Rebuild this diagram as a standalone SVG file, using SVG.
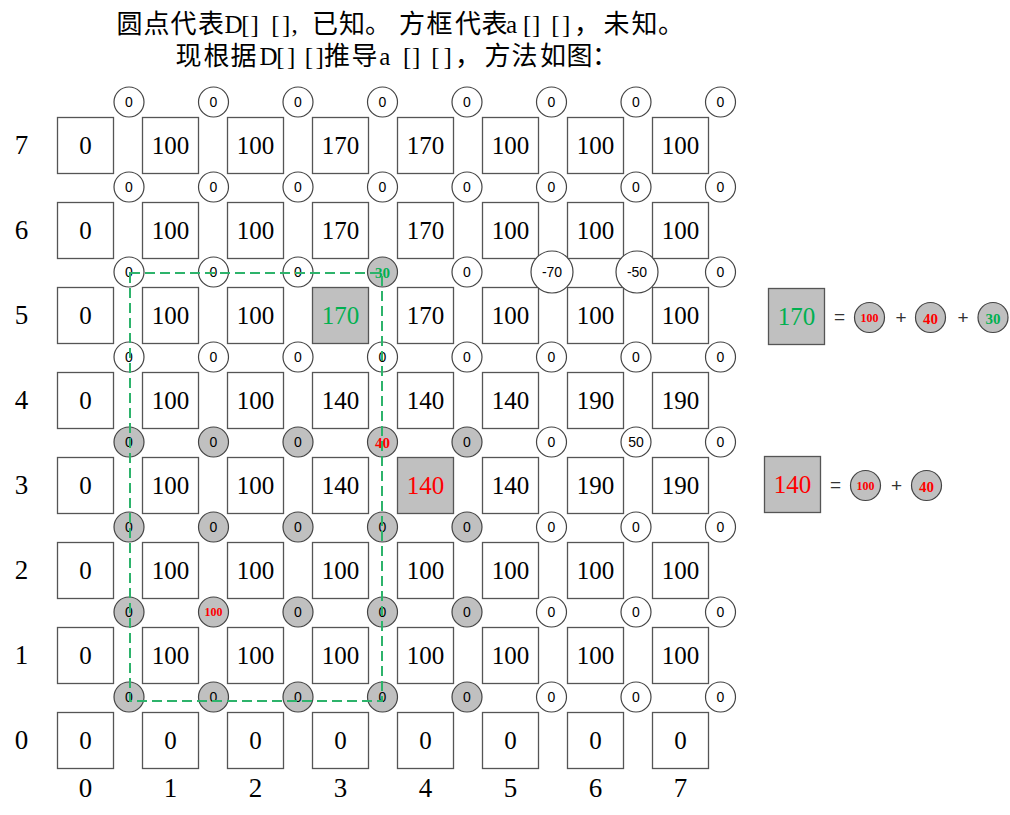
<svg xmlns="http://www.w3.org/2000/svg" width="1010" height="815" viewBox="0 0 1010 815">
<style>
.box{fill:#fff;stroke:#555;stroke-width:1.3}
.gb{fill:#c0c0c0}
.bt{font-family:"Liberation Serif",serif;font-size:25px;text-anchor:middle;fill:#000}
.lbl{font-family:"Liberation Serif",serif;font-size:27px;text-anchor:middle;fill:#000}
.dot{fill:#fff;stroke:#444;stroke-width:1.2}
.gd{fill:#c0c0c0}
.dt{font-family:"Liberation Sans",sans-serif;font-size:14px;text-anchor:middle;fill:#000}
.hl{font-family:"Liberation Serif",serif;font-weight:bold;font-size:15px;text-anchor:middle}
.sm{font-size:12px}
.red{fill:#ff0000}
.grn{fill:#00b050}
.op{font-family:"Liberation Sans",sans-serif;font-size:19px;text-anchor:middle;fill:#333}
.title{font-family:"Liberation Serif","Noto Sans CJK SC",serif;font-size:26px;fill:#000}
.lt{font-size:25px}
.region{fill:none;stroke:#2db36b;stroke-width:2;stroke-dasharray:10 5}
</style>
<rect width="1010" height="815" fill="#fff"/>
<g id="title">
<text class="title" y="32.5" x="116.5 143.5 170.5 198">圆点代表<tspan class="lt" x="224.5 241.3 250.5 271.3 282 291.5">D[][],</tspan><tspan x="312 339 365 399 426.5 455 481.5">已知。方框代表</tspan><tspan class="lt" x="506 523 532 551.3 562">a[][]</tspan><tspan x="574 603.5 631.5 658">，未知。</tspan></text>
<text class="title" y="64.5" x="175.5 203.5 230.5">现根据<tspan class="lt" x="259.5 276.3 287 304.7 315.5">D[][]</tspan><tspan x="324 351.5">推导</tspan><tspan class="lt" x="379.3 403 412 431.3 443.5">a[][]</tspan><tspan x="455 484.5 511.5 540 566.5 592">，方法如图：</tspan></text>
</g>
<g id="row-labels">
<text class="lbl" x="21.5" y="154">7</text>
<text class="lbl" x="21.5" y="239">6</text>
<text class="lbl" x="21.5" y="324">5</text>
<text class="lbl" x="21.5" y="409">4</text>
<text class="lbl" x="21.5" y="494">3</text>
<text class="lbl" x="21.5" y="579">2</text>
<text class="lbl" x="21.5" y="664">1</text>
<text class="lbl" x="21.5" y="749">0</text>
</g>
<g id="col-labels">
<text class="lbl" x="85.5" y="797">0</text>
<text class="lbl" x="170.5" y="797">1</text>
<text class="lbl" x="255.5" y="797">2</text>
<text class="lbl" x="340.5" y="797">3</text>
<text class="lbl" x="425.5" y="797">4</text>
<text class="lbl" x="510.5" y="797">5</text>
<text class="lbl" x="595.5" y="797">6</text>
<text class="lbl" x="680.5" y="797">7</text>
</g>
<g id="boxes">
<g id="a-7-0"><rect class="box" x="57.5" y="117.5" width="56" height="56"/><text class="bt" x="85.5" y="153.5">0</text></g>
<g id="a-7-1"><rect class="box" x="142.5" y="117.5" width="56" height="56"/><text class="bt" x="170.5" y="153.5">100</text></g>
<g id="a-7-2"><rect class="box" x="227.5" y="117.5" width="56" height="56"/><text class="bt" x="255.5" y="153.5">100</text></g>
<g id="a-7-3"><rect class="box" x="312.5" y="117.5" width="56" height="56"/><text class="bt" x="340.5" y="153.5">170</text></g>
<g id="a-7-4"><rect class="box" x="397.5" y="117.5" width="56" height="56"/><text class="bt" x="425.5" y="153.5">170</text></g>
<g id="a-7-5"><rect class="box" x="482.5" y="117.5" width="56" height="56"/><text class="bt" x="510.5" y="153.5">100</text></g>
<g id="a-7-6"><rect class="box" x="567.5" y="117.5" width="56" height="56"/><text class="bt" x="595.5" y="153.5">100</text></g>
<g id="a-7-7"><rect class="box" x="652.5" y="117.5" width="56" height="56"/><text class="bt" x="680.5" y="153.5">100</text></g>

<g id="a-6-0"><rect class="box" x="57.5" y="202.5" width="56" height="56"/><text class="bt" x="85.5" y="238.5">0</text></g>
<g id="a-6-1"><rect class="box" x="142.5" y="202.5" width="56" height="56"/><text class="bt" x="170.5" y="238.5">100</text></g>
<g id="a-6-2"><rect class="box" x="227.5" y="202.5" width="56" height="56"/><text class="bt" x="255.5" y="238.5">100</text></g>
<g id="a-6-3"><rect class="box" x="312.5" y="202.5" width="56" height="56"/><text class="bt" x="340.5" y="238.5">170</text></g>
<g id="a-6-4"><rect class="box" x="397.5" y="202.5" width="56" height="56"/><text class="bt" x="425.5" y="238.5">170</text></g>
<g id="a-6-5"><rect class="box" x="482.5" y="202.5" width="56" height="56"/><text class="bt" x="510.5" y="238.5">100</text></g>
<g id="a-6-6"><rect class="box" x="567.5" y="202.5" width="56" height="56"/><text class="bt" x="595.5" y="238.5">100</text></g>
<g id="a-6-7"><rect class="box" x="652.5" y="202.5" width="56" height="56"/><text class="bt" x="680.5" y="238.5">100</text></g>

<g id="a-5-0"><rect class="box" x="57.5" y="287.5" width="56" height="56"/><text class="bt" x="85.5" y="323.5">0</text></g>
<g id="a-5-1"><rect class="box" x="142.5" y="287.5" width="56" height="56"/><text class="bt" x="170.5" y="323.5">100</text></g>
<g id="a-5-2"><rect class="box" x="227.5" y="287.5" width="56" height="56"/><text class="bt" x="255.5" y="323.5">100</text></g>
<g id="a-5-3"><rect class="box gb" x="312.5" y="287.5" width="56" height="56"/><text class="bt grn" x="340.5" y="323.5">170</text></g>
<g id="a-5-4"><rect class="box" x="397.5" y="287.5" width="56" height="56"/><text class="bt" x="425.5" y="323.5">170</text></g>
<g id="a-5-5"><rect class="box" x="482.5" y="287.5" width="56" height="56"/><text class="bt" x="510.5" y="323.5">100</text></g>
<g id="a-5-6"><rect class="box" x="567.5" y="287.5" width="56" height="56"/><text class="bt" x="595.5" y="323.5">100</text></g>
<g id="a-5-7"><rect class="box" x="652.5" y="287.5" width="56" height="56"/><text class="bt" x="680.5" y="323.5">100</text></g>

<g id="a-4-0"><rect class="box" x="57.5" y="372.5" width="56" height="56"/><text class="bt" x="85.5" y="408.5">0</text></g>
<g id="a-4-1"><rect class="box" x="142.5" y="372.5" width="56" height="56"/><text class="bt" x="170.5" y="408.5">100</text></g>
<g id="a-4-2"><rect class="box" x="227.5" y="372.5" width="56" height="56"/><text class="bt" x="255.5" y="408.5">100</text></g>
<g id="a-4-3"><rect class="box" x="312.5" y="372.5" width="56" height="56"/><text class="bt" x="340.5" y="408.5">140</text></g>
<g id="a-4-4"><rect class="box" x="397.5" y="372.5" width="56" height="56"/><text class="bt" x="425.5" y="408.5">140</text></g>
<g id="a-4-5"><rect class="box" x="482.5" y="372.5" width="56" height="56"/><text class="bt" x="510.5" y="408.5">140</text></g>
<g id="a-4-6"><rect class="box" x="567.5" y="372.5" width="56" height="56"/><text class="bt" x="595.5" y="408.5">190</text></g>
<g id="a-4-7"><rect class="box" x="652.5" y="372.5" width="56" height="56"/><text class="bt" x="680.5" y="408.5">190</text></g>

<g id="a-3-0"><rect class="box" x="57.5" y="457.5" width="56" height="56"/><text class="bt" x="85.5" y="493.5">0</text></g>
<g id="a-3-1"><rect class="box" x="142.5" y="457.5" width="56" height="56"/><text class="bt" x="170.5" y="493.5">100</text></g>
<g id="a-3-2"><rect class="box" x="227.5" y="457.5" width="56" height="56"/><text class="bt" x="255.5" y="493.5">100</text></g>
<g id="a-3-3"><rect class="box" x="312.5" y="457.5" width="56" height="56"/><text class="bt" x="340.5" y="493.5">140</text></g>
<g id="a-3-4"><rect class="box gb" x="397.5" y="457.5" width="56" height="56"/><text class="bt red" x="425.5" y="493.5">140</text></g>
<g id="a-3-5"><rect class="box" x="482.5" y="457.5" width="56" height="56"/><text class="bt" x="510.5" y="493.5">140</text></g>
<g id="a-3-6"><rect class="box" x="567.5" y="457.5" width="56" height="56"/><text class="bt" x="595.5" y="493.5">190</text></g>
<g id="a-3-7"><rect class="box" x="652.5" y="457.5" width="56" height="56"/><text class="bt" x="680.5" y="493.5">190</text></g>

<g id="a-2-0"><rect class="box" x="57.5" y="542.5" width="56" height="56"/><text class="bt" x="85.5" y="578.5">0</text></g>
<g id="a-2-1"><rect class="box" x="142.5" y="542.5" width="56" height="56"/><text class="bt" x="170.5" y="578.5">100</text></g>
<g id="a-2-2"><rect class="box" x="227.5" y="542.5" width="56" height="56"/><text class="bt" x="255.5" y="578.5">100</text></g>
<g id="a-2-3"><rect class="box" x="312.5" y="542.5" width="56" height="56"/><text class="bt" x="340.5" y="578.5">100</text></g>
<g id="a-2-4"><rect class="box" x="397.5" y="542.5" width="56" height="56"/><text class="bt" x="425.5" y="578.5">100</text></g>
<g id="a-2-5"><rect class="box" x="482.5" y="542.5" width="56" height="56"/><text class="bt" x="510.5" y="578.5">100</text></g>
<g id="a-2-6"><rect class="box" x="567.5" y="542.5" width="56" height="56"/><text class="bt" x="595.5" y="578.5">100</text></g>
<g id="a-2-7"><rect class="box" x="652.5" y="542.5" width="56" height="56"/><text class="bt" x="680.5" y="578.5">100</text></g>

<g id="a-1-0"><rect class="box" x="57.5" y="627.5" width="56" height="56"/><text class="bt" x="85.5" y="663.5">0</text></g>
<g id="a-1-1"><rect class="box" x="142.5" y="627.5" width="56" height="56"/><text class="bt" x="170.5" y="663.5">100</text></g>
<g id="a-1-2"><rect class="box" x="227.5" y="627.5" width="56" height="56"/><text class="bt" x="255.5" y="663.5">100</text></g>
<g id="a-1-3"><rect class="box" x="312.5" y="627.5" width="56" height="56"/><text class="bt" x="340.5" y="663.5">100</text></g>
<g id="a-1-4"><rect class="box" x="397.5" y="627.5" width="56" height="56"/><text class="bt" x="425.5" y="663.5">100</text></g>
<g id="a-1-5"><rect class="box" x="482.5" y="627.5" width="56" height="56"/><text class="bt" x="510.5" y="663.5">100</text></g>
<g id="a-1-6"><rect class="box" x="567.5" y="627.5" width="56" height="56"/><text class="bt" x="595.5" y="663.5">100</text></g>
<g id="a-1-7"><rect class="box" x="652.5" y="627.5" width="56" height="56"/><text class="bt" x="680.5" y="663.5">100</text></g>

<g id="a-0-0"><rect class="box" x="57.5" y="712.5" width="56" height="56"/><text class="bt" x="85.5" y="748.5">0</text></g>
<g id="a-0-1"><rect class="box" x="142.5" y="712.5" width="56" height="56"/><text class="bt" x="170.5" y="748.5">0</text></g>
<g id="a-0-2"><rect class="box" x="227.5" y="712.5" width="56" height="56"/><text class="bt" x="255.5" y="748.5">0</text></g>
<g id="a-0-3"><rect class="box" x="312.5" y="712.5" width="56" height="56"/><text class="bt" x="340.5" y="748.5">0</text></g>
<g id="a-0-4"><rect class="box" x="397.5" y="712.5" width="56" height="56"/><text class="bt" x="425.5" y="748.5">0</text></g>
<g id="a-0-5"><rect class="box" x="482.5" y="712.5" width="56" height="56"/><text class="bt" x="510.5" y="748.5">0</text></g>
<g id="a-0-6"><rect class="box" x="567.5" y="712.5" width="56" height="56"/><text class="bt" x="595.5" y="748.5">0</text></g>
<g id="a-0-7"><rect class="box" x="652.5" y="712.5" width="56" height="56"/><text class="bt" x="680.5" y="748.5">0</text></g>
</g>
<g id="dots">
<g id="D-8-1"><circle class="dot" cx="129" cy="102" r="15"/><text class="dt" x="129" y="107">0</text></g>
<g id="D-8-2"><circle class="dot" cx="213.5" cy="102" r="15"/><text class="dt" x="213.5" y="107">0</text></g>
<g id="D-8-3"><circle class="dot" cx="298" cy="102" r="15"/><text class="dt" x="298" y="107">0</text></g>
<g id="D-8-4"><circle class="dot" cx="382.5" cy="102" r="15"/><text class="dt" x="382.5" y="107">0</text></g>
<g id="D-8-5"><circle class="dot" cx="467" cy="102" r="15"/><text class="dt" x="467" y="107">0</text></g>
<g id="D-8-6"><circle class="dot" cx="551.5" cy="102" r="15"/><text class="dt" x="551.5" y="107">0</text></g>
<g id="D-8-7"><circle class="dot" cx="636" cy="102" r="15"/><text class="dt" x="636" y="107">0</text></g>
<g id="D-8-8"><circle class="dot" cx="720.5" cy="102" r="15"/><text class="dt" x="720.5" y="107">0</text></g>

<g id="D-7-1"><circle class="dot" cx="129" cy="187" r="15"/><text class="dt" x="129" y="192">0</text></g>
<g id="D-7-2"><circle class="dot" cx="213.5" cy="187" r="15"/><text class="dt" x="213.5" y="192">0</text></g>
<g id="D-7-3"><circle class="dot" cx="298" cy="187" r="15"/><text class="dt" x="298" y="192">0</text></g>
<g id="D-7-4"><circle class="dot" cx="382.5" cy="187" r="15"/><text class="dt" x="382.5" y="192">0</text></g>
<g id="D-7-5"><circle class="dot" cx="467" cy="187" r="15"/><text class="dt" x="467" y="192">0</text></g>
<g id="D-7-6"><circle class="dot" cx="551.5" cy="187" r="15"/><text class="dt" x="551.5" y="192">0</text></g>
<g id="D-7-7"><circle class="dot" cx="636" cy="187" r="15"/><text class="dt" x="636" y="192">0</text></g>
<g id="D-7-8"><circle class="dot" cx="720.5" cy="187" r="15"/><text class="dt" x="720.5" y="192">0</text></g>

<g id="D-6-1"><circle class="dot" cx="129" cy="272" r="15"/><text class="dt" x="129" y="277">0</text></g>
<g id="D-6-2"><circle class="dot" cx="213.5" cy="272" r="15"/><text class="dt" x="213.5" y="277">0</text></g>
<g id="D-6-3"><circle class="dot" cx="298" cy="272" r="15"/><text class="dt" x="298" y="277">0</text></g>
<g id="D-6-4"><circle class="dot gd" cx="382.5" cy="272" r="15"/><text class="hl grn" x="382.5" y="278">30</text></g>
<g id="D-6-5"><circle class="dot" cx="467" cy="272" r="15"/><text class="dt" x="467" y="277">0</text></g>
<g id="D-6-6"><circle class="dot" cx="552" cy="272" r="21"/><text class="dt" x="552" y="277">-70</text></g>
<g id="D-6-7"><circle class="dot" cx="637" cy="272" r="21"/><text class="dt" x="637" y="277">-50</text></g>
<g id="D-6-8"><circle class="dot" cx="720.5" cy="272" r="15"/><text class="dt" x="720.5" y="277">0</text></g>

<g id="D-5-1"><circle class="dot" cx="129" cy="357" r="15"/><text class="dt" x="129" y="362">0</text></g>
<g id="D-5-2"><circle class="dot" cx="213.5" cy="357" r="15"/><text class="dt" x="213.5" y="362">0</text></g>
<g id="D-5-3"><circle class="dot" cx="298" cy="357" r="15"/><text class="dt" x="298" y="362">0</text></g>
<g id="D-5-4"><circle class="dot" cx="382.5" cy="357" r="15"/><text class="dt" x="382.5" y="362">0</text></g>
<g id="D-5-5"><circle class="dot" cx="467" cy="357" r="15"/><text class="dt" x="467" y="362">0</text></g>
<g id="D-5-6"><circle class="dot" cx="551.5" cy="357" r="15"/><text class="dt" x="551.5" y="362">0</text></g>
<g id="D-5-7"><circle class="dot" cx="636" cy="357" r="15"/><text class="dt" x="636" y="362">0</text></g>
<g id="D-5-8"><circle class="dot" cx="720.5" cy="357" r="15"/><text class="dt" x="720.5" y="362">0</text></g>

<g id="D-4-1"><circle class="dot gd" cx="129" cy="442" r="15"/><text class="dt" x="129" y="447">0</text></g>
<g id="D-4-2"><circle class="dot gd" cx="213.5" cy="442" r="15"/><text class="dt" x="213.5" y="447">0</text></g>
<g id="D-4-3"><circle class="dot gd" cx="298" cy="442" r="15"/><text class="dt" x="298" y="447">0</text></g>
<g id="D-4-4"><circle class="dot gd" cx="382.5" cy="442" r="15"/><text class="hl red" x="382.5" y="448">40</text></g>
<g id="D-4-5"><circle class="dot gd" cx="467" cy="442" r="15"/><text class="dt" x="467" y="447">0</text></g>
<g id="D-4-6"><circle class="dot" cx="551.5" cy="442" r="15"/><text class="dt" x="551.5" y="447">0</text></g>
<g id="D-4-7"><circle class="dot" cx="636" cy="442" r="15"/><text class="dt" x="636" y="447">50</text></g>
<g id="D-4-8"><circle class="dot" cx="720.5" cy="442" r="15"/><text class="dt" x="720.5" y="447">0</text></g>

<g id="D-3-1"><circle class="dot gd" cx="129" cy="527" r="15"/><text class="dt" x="129" y="532">0</text></g>
<g id="D-3-2"><circle class="dot gd" cx="213.5" cy="527" r="15"/><text class="dt" x="213.5" y="532">0</text></g>
<g id="D-3-3"><circle class="dot gd" cx="298" cy="527" r="15"/><text class="dt" x="298" y="532">0</text></g>
<g id="D-3-4"><circle class="dot gd" cx="382.5" cy="527" r="15"/><text class="dt" x="382.5" y="532">0</text></g>
<g id="D-3-5"><circle class="dot gd" cx="467" cy="527" r="15"/><text class="dt" x="467" y="532">0</text></g>
<g id="D-3-6"><circle class="dot" cx="551.5" cy="527" r="15"/><text class="dt" x="551.5" y="532">0</text></g>
<g id="D-3-7"><circle class="dot" cx="636" cy="527" r="15"/><text class="dt" x="636" y="532">0</text></g>
<g id="D-3-8"><circle class="dot" cx="720.5" cy="527" r="15"/><text class="dt" x="720.5" y="532">0</text></g>

<g id="D-2-1"><circle class="dot gd" cx="129" cy="612" r="15"/><text class="dt" x="129" y="617">0</text></g>
<g id="D-2-2"><circle class="dot gd" cx="213.5" cy="612" r="15"/><text class="hl sm red" x="213.5" y="616">100</text></g>
<g id="D-2-3"><circle class="dot gd" cx="298" cy="612" r="15"/><text class="dt" x="298" y="617">0</text></g>
<g id="D-2-4"><circle class="dot gd" cx="382.5" cy="612" r="15"/><text class="dt" x="382.5" y="617">0</text></g>
<g id="D-2-5"><circle class="dot gd" cx="467" cy="612" r="15"/><text class="dt" x="467" y="617">0</text></g>
<g id="D-2-6"><circle class="dot" cx="551.5" cy="612" r="15"/><text class="dt" x="551.5" y="617">0</text></g>
<g id="D-2-7"><circle class="dot" cx="636" cy="612" r="15"/><text class="dt" x="636" y="617">0</text></g>
<g id="D-2-8"><circle class="dot" cx="720.5" cy="612" r="15"/><text class="dt" x="720.5" y="617">0</text></g>

<g id="D-1-1"><circle class="dot gd" cx="129" cy="697" r="15"/><text class="dt" x="129" y="702">0</text></g>
<g id="D-1-2"><circle class="dot gd" cx="213.5" cy="697" r="15"/><text class="dt" x="213.5" y="702">0</text></g>
<g id="D-1-3"><circle class="dot gd" cx="298" cy="697" r="15"/><text class="dt" x="298" y="702">0</text></g>
<g id="D-1-4"><circle class="dot gd" cx="382.5" cy="697" r="15"/><text class="dt" x="382.5" y="702">0</text></g>
<g id="D-1-5"><circle class="dot gd" cx="467" cy="697" r="15"/><text class="dt" x="467" y="702">0</text></g>
<g id="D-1-6"><circle class="dot" cx="551.5" cy="697" r="15"/><text class="dt" x="551.5" y="702">0</text></g>
<g id="D-1-7"><circle class="dot" cx="636" cy="697" r="15"/><text class="dt" x="636" y="702">0</text></g>
<g id="D-1-8"><circle class="dot" cx="720.5" cy="697" r="15"/><text class="dt" x="720.5" y="702">0</text></g>
</g>
<g id="connectors">
<rect class="region" x="130" y="273" width="252" height="428"/>
</g>
<g id="formula-170">
<rect class="box gb" x="768.5" y="288.5" width="56" height="56"/>
<text class="bt grn" x="796.5" y="324.5">170</text>
<text class="op" x="839.5" y="322.5">=</text>
<circle class="dot gd" cx="869.5" cy="317.5" r="15"/>
<text class="hl sm red" x="869.5" y="321.5">100</text>
<text class="op" x="901" y="323.5">+</text>
<circle class="dot gd" cx="930.5" cy="317.5" r="15"/>
<text class="hl red" x="930.5" y="323.5">40</text>
<text class="op" x="963" y="323.5">+</text>
<circle class="dot gd" cx="993" cy="317.5" r="15"/>
<text class="hl grn" x="993" y="323.5">30</text>
</g>
<g id="formula-140">
<rect class="box gb" x="764.5" y="456.5" width="56" height="56"/>
<text class="bt red" x="792.5" y="493">140</text>
<text class="op" x="835.5" y="490.5">=</text>
<circle class="dot gd" cx="865.5" cy="485.5" r="15"/>
<text class="hl sm red" x="865.5" y="489.5">100</text>
<text class="op" x="896.5" y="491.5">+</text>
<circle class="dot gd" cx="926.5" cy="485.5" r="15"/>
<text class="hl red" x="926.5" y="491.5">40</text>
</g>
</svg>
